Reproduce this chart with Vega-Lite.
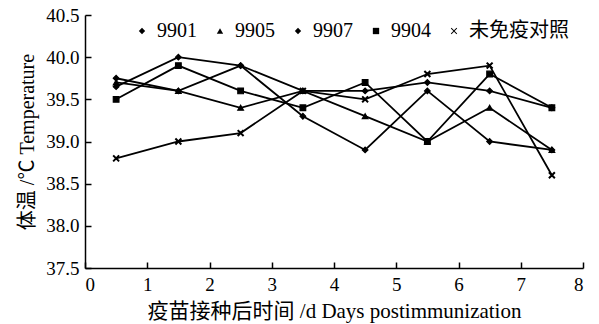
{
  "$schema": "https://vega.github.io/schema/vega-lite/v6.json",
  "width": 498,
  "height": 253,
  "autosize": {"type": "none"},
  "padding": {"left": 85, "top": 15, "right": 16, "bottom": 56},
  "background": "white",
  "config": {
    "view": {"stroke": null},
    "font": "Liberation Serif",
    "axis": {"domainColor": "black", "domainWidth": 1.5, "tickColor": "black", "tickWidth": 1.5, "labelColor": "black", "titleColor": "black", "labelFont": "Liberation Serif", "titleFont": "Liberation Serif, Noto Sans CJK SC", "labelFontSize": 19, "titleFontSize": 20, "titleFontWeight": "normal", "grid": false}
  },
  "data": {
    "values": [
      {"series": "9901", "day": 0.5, "temp": 39.65},
      {"series": "9901", "day": 1.5, "temp": 40.0},
      {"series": "9901", "day": 2.5, "temp": 39.9},
      {"series": "9901", "day": 3.5, "temp": 39.6},
      {"series": "9901", "day": 4.5, "temp": 39.6},
      {"series": "9901", "day": 5.5, "temp": 39.7},
      {"series": "9901", "day": 6.5, "temp": 39.6},
      {"series": "9901", "day": 7.5, "temp": 39.4},
      {"series": "9905", "day": 0.5, "temp": 39.7},
      {"series": "9905", "day": 1.5, "temp": 39.6},
      {"series": "9905", "day": 2.5, "temp": 39.4},
      {"series": "9905", "day": 3.5, "temp": 39.6},
      {"series": "9905", "day": 4.5, "temp": 39.3},
      {"series": "9905", "day": 5.5, "temp": 39.0},
      {"series": "9905", "day": 6.5, "temp": 39.4},
      {"series": "9905", "day": 7.5, "temp": 38.9},
      {"series": "9907", "day": 0.5, "temp": 39.75},
      {"series": "9907", "day": 1.5, "temp": 39.6},
      {"series": "9907", "day": 2.5, "temp": 39.9},
      {"series": "9907", "day": 3.5, "temp": 39.3},
      {"series": "9907", "day": 4.5, "temp": 38.9},
      {"series": "9907", "day": 5.5, "temp": 39.6},
      {"series": "9907", "day": 6.5, "temp": 39.0},
      {"series": "9907", "day": 7.5, "temp": 38.9},
      {"series": "9904", "day": 0.5, "temp": 39.5},
      {"series": "9904", "day": 1.5, "temp": 39.9},
      {"series": "9904", "day": 2.5, "temp": 39.6},
      {"series": "9904", "day": 3.5, "temp": 39.4},
      {"series": "9904", "day": 4.5, "temp": 39.7},
      {"series": "9904", "day": 5.5, "temp": 39.0},
      {"series": "9904", "day": 6.5, "temp": 39.8},
      {"series": "9904", "day": 7.5, "temp": 39.4},
      {"series": "未免疫对照", "day": 0.5, "temp": 38.8},
      {"series": "未免疫对照", "day": 1.5, "temp": 39.0},
      {"series": "未免疫对照", "day": 2.5, "temp": 39.1},
      {"series": "未免疫对照", "day": 3.5, "temp": 39.6},
      {"series": "未免疫对照", "day": 4.5, "temp": 39.5},
      {"series": "未免疫对照", "day": 5.5, "temp": 39.8},
      {"series": "未免疫对照", "day": 6.5, "temp": 39.9},
      {"series": "未免疫对照", "day": 7.5, "temp": 38.6}
    ]
  },
  "encoding": {
    "x": {
      "field": "day", "type": "quantitative",
      "scale": {"domain": [0, 8], "nice": false, "zero": false},
      "axis": {"values": [0, 1, 2, 3, 4, 5, 6, 7, 8], "format": "d", "tickSize": -6, "labelPadding": 13, "title": "疫苗接种后时间 /d Days postimmunization", "titlePadding": 6, "titleFontSize": 21}
    },
    "y": {
      "field": "temp", "type": "quantitative",
      "scale": {"domain": [37.5, 40.5], "nice": false, "zero": false},
      "axis": {"values": [37.5, 38.0, 38.5, 39.0, 39.5, 40.0, 40.5], "format": ".1f", "tickSize": -6, "labelPadding": 12, "title": "体温 /℃ Temperature", "titlePadding": 8}
    }
  },
  "layer": [
    {
      "mark": {"type": "line", "color": "black", "strokeWidth": 1.8},
      "encoding": {"detail": {"field": "series"}}
    },
    {
      "mark": {"type": "point", "filled": true, "color": "black", "stroke": "black", "strokeWidth": 1.2, "size": 32, "opacity": 1},
      "encoding": {
        "shape": {
          "field": "series", "type": "nominal",
          "scale": {"domain": ["9901", "9905", "9907", "9904", "未免疫对照"], "range": ["diamond", "triangle-up", "diamond", "square", "M-1,-0.8L-0.8,-1L0,-0.2L0.8,-1L1,-0.8L0.2,0L1,0.8L0.8,1L0,0.2L-0.8,1L-1,0.8L-0.2,0Z"]},
          "legend": {"orient": "none", "legendX": 47, "legendY": 6, "direction": "horizontal", "title": null, "labelFont": "Liberation Serif, Noto Sans CJK SC", "labelFontSize": 20, "labelColor": "black", "symbolFillColor": "black", "symbolStrokeColor": "black", "symbolStrokeWidth": 1.2, "symbolSize": 40, "columnPadding": 13, "labelOffset": 5,
            "encode": {"symbols": {"update": {"stroke": {"value": "black"}, "strokeWidth": {"value": 1.2}, "fill": {"value": "black"}}}}}
        }
      }
    }
  ]
}
